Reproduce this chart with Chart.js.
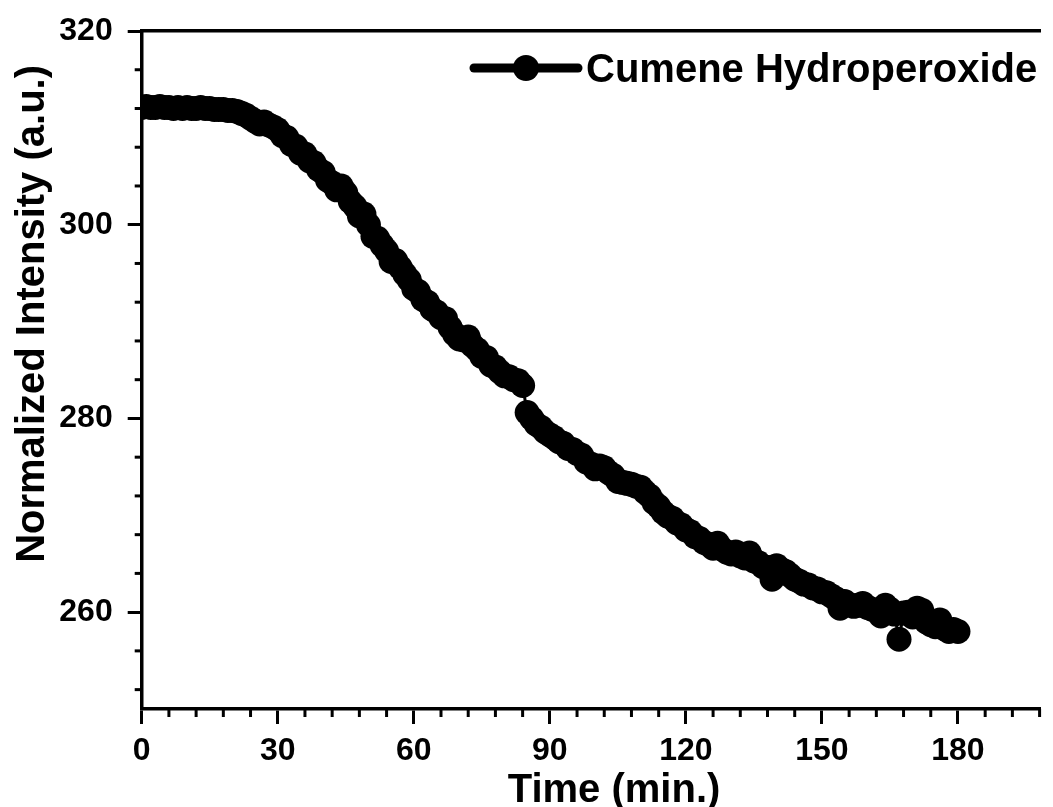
<!DOCTYPE html>
<html><head><meta charset="utf-8">
<script src="https://cdn.jsdelivr.net/npm/chart.js@4.4.1/dist/chart.umd.min.js"></script>
<style>html,body{margin:0;padding:0;background:#fff;overflow:hidden}canvas{display:block}</style>
</head><body><canvas id="c" width="1053" height="807"></canvas>
<script>
const seriesName = 'Cumene Hydroperoxide';
const xTitle = 'Time (min.)';
const yTitle = 'Normalized Intensity (a.u.)';
const timeMin = [0,1,2,3,4,5,6,7,8,9,10,11,12,13,14,15,16,17,18,19,20,21,22,23,24,25,26,27,28,29,30,31,32,33,34,35,36,37,38,39,40,41,42,43,44,45,46,47,48,49,50,51,52,53,54,55,56,57,58,59,60,61,62,63,64,65,66,67,68,69,70,71,72,73,74,75,76,77,78,79,80,81,82,83,84,85,86,87,88,89,90,91,92,93,94,95,96,97,98,99,100,101,102,103,104,105,106,107,108,109,110,111,112,113,114,115,116,117,118,119,120,121,122,123,124,125,126,127,128,129,130,131,132,133,134,135,136,137,138,139,140,141,142,143,144,145,146,147,148,149,150,151,152,153,154,155,156,157,158,159,160,161,162,163,164,165,166,167,168,169,170,171,172,173,174,175,176,177,178,179,180];
const intensity = [
312.1,312.2,312.1,312.1,312.2,312.1,312.1,312.0,312.1,312.0,
312.1,312.0,312.0,312.1,312.0,312.0,311.9,311.9,311.9,311.8,
311.8,311.7,311.5,311.3,311.0,310.7,310.4,310.6,310.3,310.1,
309.8,309.2,309.0,308.3,308.1,307.4,307.3,306.6,306.4,305.7,
305.4,304.6,304.3,303.6,304.0,303.3,302.4,301.9,300.9,301.1,
300.0,298.8,298.6,297.9,297.3,296.2,296.3,295.6,294.9,294.3,
293.4,293.1,292.3,292.0,291.3,291.0,290.4,290.3,289.4,288.7,
288.2,288.1,288.4,287.5,287.1,286.4,286.3,285.5,285.3,284.8,
284.4,284.3,284.0,283.9,283.4,280.6,280.0,279.4,279.1,278.6,
278.3,278.0,277.6,277.4,276.9,276.8,276.4,276.2,275.5,275.3,
274.8,275.1,274.9,274.4,274.1,273.5,273.4,273.3,273.2,273.0,
272.9,272.4,272.0,271.3,270.9,270.3,269.9,269.7,269.2,269.0,
268.5,268.3,267.8,267.6,267.2,267.0,266.6,267.1,266.5,266.2,
266.0,266.2,265.8,265.6,266.1,265.3,265.1,264.7,264.6,263.4,
264.8,264.4,264.2,263.8,263.4,263.2,262.9,262.8,262.5,262.4,
262.1,262.0,261.7,261.4,260.4,261.1,260.8,260.6,260.7,260.9,
260.5,260.3,260.2,259.6,260.7,260.3,259.8,257.2,259.9,260.0,
259.5,260.4,260.2,259.0,258.7,258.5,259.2,258.3,258.0,258.2,
258.0];
const xTickValues = [0,30,60,90,120,150,180];
const yTickValues = [260,280,300,320];
const xMinorValues = [6,12,18,24,36,42,48,54,66,72,78,84,96,102,108,114,126,132,138,144,156,162,168,174,186,192,198];
const yMinorValues = [252,256,264,268,272,276,284,288,292,296,304,308,312,316];

const FONT = '"Liberation Sans", Arial, Helvetica, sans-serif';
const BLACK = '#000000';

const extras = {
  id: 'extras',
  afterDraw(chart) {
    const {ctx, chartArea: a} = chart;
    const x = chart.scales.x, y = chart.scales.y;
    ctx.save();
    ctx.strokeStyle = BLACK;
    ctx.lineWidth = 3;
    xMinorValues.forEach(v => {
      const px = x.getPixelForValue(v);
      ctx.beginPath(); ctx.moveTo(px, a.bottom); ctx.lineTo(px, a.bottom + 8); ctx.stroke();
    });
    yMinorValues.forEach(v => {
      const py = y.getPixelForValue(v);
      ctx.beginPath(); ctx.moveTo(a.left, py); ctx.lineTo(a.left - 7, py); ctx.stroke();
    });
    ctx.fillStyle = BLACK;
    ctx.font = 'bold 40px ' + FONT;
    ctx.textBaseline = 'alphabetic';
    ctx.textAlign = 'center';
    ctx.fillText(xTitle, 614, 802);
    ctx.save();
    ctx.translate(44, 65);
    ctx.rotate(-Math.PI / 2);
    ctx.textAlign = 'right';
    ctx.fillText(yTitle, 0, 0);
    ctx.restore();
    // legend
    ctx.lineWidth = 9;
    ctx.lineCap = 'round';
    ctx.beginPath(); ctx.moveTo(474, 68); ctx.lineTo(578, 68); ctx.stroke();
    ctx.beginPath(); ctx.arc(526, 68, 13, 0, Math.PI * 2); ctx.fill();
    ctx.textAlign = 'left';
    ctx.fillText(seriesName, 586, 82);
    ctx.restore();
  }
};

new Chart(document.getElementById('c'), {
  type: 'line',
  data: {
    datasets: [{
      label: seriesName,
      data: timeMin.map((t, i) => ({x: t, y: intensity[i]})),
      borderColor: BLACK, backgroundColor: BLACK, borderWidth: 3,
      pointRadius: 12.5, pointBorderWidth: 0, pointBackgroundColor: BLACK, pointBorderColor: BLACK,
      tension: 0, clip: 0
    }]
  },
  options: {
    responsive: false, animation: false, devicePixelRatio: 1,
    layout: {padding: {top: 31, right: 0, left: 0, bottom: 0}},
    plugins: {legend: {display: false}, tooltip: {enabled: false}},
    scales: {
      x: {
        type: 'linear', position: 'bottom', min: 0, max: 198.2,
        afterBuildTicks: s => { s.ticks = xTickValues.map(v => ({value: v})); },
        afterFit: s => { s.height = 98; s.paddingLeft = 0; s.paddingRight = 0; },
        ticks: {font: {family: FONT, size: 32, weight: 'bold'}, color: BLACK, padding: 8, maxRotation: 0, autoSkip: false},
        grid: {drawOnChartArea: false, drawTicks: true, tickLength: 15, tickWidth: 3, tickColor: BLACK},
        border: {display: true, color: BLACK, width: 3.5}
      },
      y: {
        type: 'linear', position: 'left', min: 250, max: 320,
        afterBuildTicks: s => { s.ticks = yTickValues.map(v => ({value: v})); },
        afterFit: s => { s.width = 141.7; s.paddingTop = 0; s.paddingBottom = 0; },
        ticks: {font: {family: FONT, size: 32, weight: 'bold'}, color: BLACK, padding: 15, autoSkip: false},
        grid: {drawOnChartArea: false, drawTicks: true, tickLength: 14, tickWidth: 3, tickColor: BLACK},
        border: {display: true, color: BLACK, width: 3.5}
      },
      xTop: {
        type: 'linear', position: 'top', min: 0, max: 198.2,
        afterFit: s => { s.height = 0; s.paddingLeft = 0; s.paddingRight = 0; },
        ticks: {display: false},
        grid: {display: false, drawTicks: false},
        border: {display: true, color: BLACK, width: 3.5}
      }
    }
  },
  plugins: [extras]
});
</script>
</body></html>
